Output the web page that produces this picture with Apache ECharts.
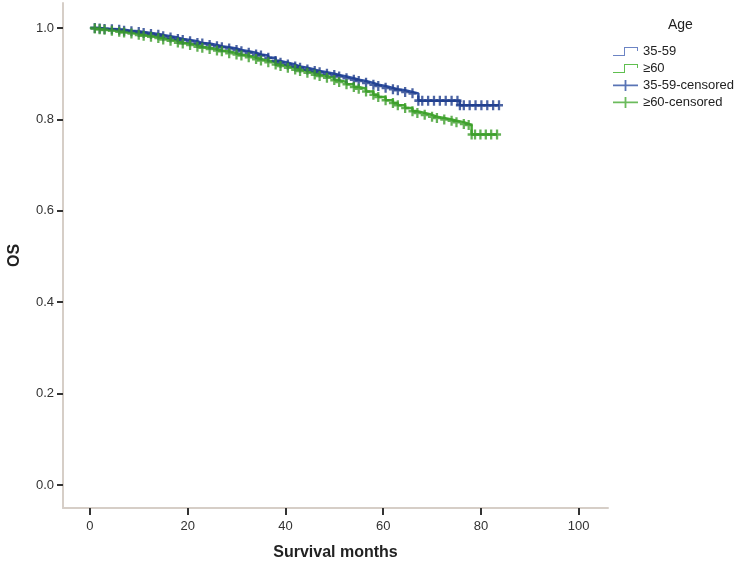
<!DOCTYPE html>
<html><head><meta charset="utf-8">
<script src="https://cdn.jsdelivr.net/npm/echarts@6/dist/echarts.min.js"></script>
<style>html,body{margin:0;padding:0;background:#fff}#c{width:745px;height:570px}</style>
</head><body><div id="c"></div>
<script>
// Kaplan-Meier data
const youngTimes = [0,1,2,3,4.5,6,7,8.5,10,11,12.5,14,15,16.5,18,19,20.5,22,23,24.5,26,27,28.5,30,31,32.5,34,35,36.5,38,39,40.5,42,43,44.5,46,47,48.5,50,51,52.5,54,55,56.5,58,59,60.5,62,63,64.5,66,67.2,68,69.2,70.4,71.6,72.8,74,75.2,75.7,76.5,77.7,78.9,80.1,81.3,82.5,83.7];
const youngSurv  = [1.000,1.000,0.999,0.998,0.997,0.996,0.994,0.993,0.991,0.989,0.987,0.985,0.982,0.979,0.976,0.974,0.971,0.967,0.966,0.963,0.960,0.958,0.955,0.952,0.949,0.946,0.942,0.940,0.935,0.928,0.924,0.920,0.916,0.913,0.909,0.906,0.903,0.900,0.897,0.894,0.890,0.887,0.884,0.880,0.876,0.873,0.869,0.866,0.864,0.860,0.857,0.841,0.841,0.841,0.841,0.841,0.841,0.841,0.841,0.831,0.831,0.831,0.831,0.831,0.831,0.831,0.831];
const oldTimes = [0,1,2,3,4.5,6,7,8.5,10,11,12.5,14,15,16.5,18,19,20.5,22,23,24.5,26,27,28.5,30,31,32.5,34,35,36.5,38,39,40.5,42,43,44.5,46,47,48.5,50,51,52.5,54,55,56.5,58,59,60.5,62,63,64.5,66,67,68.5,70,71,72.5,74,75,76.5,77.5,78.1,78.8,79.9,81,82.1,83.3];
const oldSurv  = [1.000,0.999,0.997,0.996,0.994,0.992,0.990,0.988,0.985,0.983,0.981,0.978,0.975,0.972,0.968,0.966,0.963,0.959,0.957,0.954,0.951,0.949,0.945,0.942,0.940,0.936,0.932,0.929,0.925,0.920,0.917,0.913,0.909,0.906,0.902,0.898,0.895,0.891,0.886,0.882,0.877,0.871,0.867,0.861,0.854,0.849,0.842,0.836,0.831,0.825,0.818,0.814,0.810,0.806,0.803,0.800,0.797,0.794,0.790,0.788,0.767,0.767,0.767,0.767,0.767,0.767];
const xTicks = [0,20,40,60,80,100];
const yTicks = [0,0.2,0.4,0.6,0.8,1.0];
const groupNames = ['35-59','≥60'];

const pairs = (t,s) => t.map((v,i)=>[v,s[i]]);
const youngData = pairs(youngTimes, youngSurv);
const oldData = pairs(oldTimes, oldSurv);

const BLUE_LINE = '#2f51a3', BLUE_MARK = '#1f3d8c', BLUE_LEG = '#6c84c4';
const GREEN_LINE = '#46aa33', GREEN_MARK = '#3c9e2a', GREEN_LEG = '#5fbf4f';
const plusPath = 'path://M3,0h2.4v3.4h3v2.4h-3v3.4h-2.4v-3.4h-3v-2.4h3z';
const stepIcon = 'path://M0,8H11V0H25V4H24V1H12V9H0Z';
const censIcon = 'path://M0,4.6H11.6V0H13.4V4.6H25V6.2H13.4V11H11.6V6.2H0Z';
const FONT = '"Liberation Sans", Arial, sans-serif';

const chart = echarts.init(document.getElementById('c'), null, {renderer:'canvas'});
chart.setOption({
  backgroundColor:'#ffffff',
  animation:false,
  grid:{left:63, right:137, top:3, bottom:62, containLabel:false, outerBoundsMode:'none'},
  xAxis:{
    type:'value', min:-5.5, max:106,
    name:'Survival months', nameLocation:'middle', nameGap:37,
    nameTextStyle:{fontFamily:FONT, fontSize:16, fontWeight:'bold', color:'#222'},
    axisLine:{show:true, onZero:false, lineStyle:{color:'#d6cec7', width:2}},
    axisTick:{show:true, customValues:xTicks, length:7, lineStyle:{color:'#333', width:2}},
    axisLabel:{customValues:xTicks, fontFamily:FONT, fontSize:13, color:'#333', margin:12},
    splitLine:{show:false}
  },
  yAxis:{
    type:'value', min:-0.0503, max:1.0547,
    name:'OS', nameLocation:'middle', nameGap:40, nameRotate:90,
    nameTextStyle:{fontFamily:FONT, fontSize:16, fontWeight:'bold', color:'#222'},
    axisLine:{show:true, onZero:false, lineStyle:{color:'#d6cec7', width:2}},
    axisTick:{show:true, customValues:yTicks, length:6, lineStyle:{color:'#333', width:2}},
    axisLabel:{customValues:yTicks, fontFamily:FONT, fontSize:13, color:'#333', margin:9,
      formatter:v=>v.toFixed(1)},
    splitLine:{show:false}
  },
  legend:{
    orient:'vertical', left:608, top:40, itemWidth:25, itemHeight:11, itemGap:4,
    textStyle:{fontFamily:FONT, fontSize:13, color:'#222'},
    data:[
      {name:groupNames[0], icon:stepIcon, itemStyle:{color:BLUE_LEG}},
      {name:groupNames[1], icon:stepIcon, itemStyle:{color:GREEN_LEG}},
      {name:groupNames[0]+'-censored', icon:censIcon, itemStyle:{color:BLUE_LINE}},
      {name:groupNames[1]+'-censored', icon:censIcon, itemStyle:{color:GREEN_LINE}}
    ]
  },
  graphic:[{type:'text', left:668, top:18, style:{text:'Age', font:'14px '+FONT, fill:'#222'}}],
  series:[
    {name:groupNames[0], type:'line', step:'end', data:youngData, symbol:'none',
      lineStyle:{color:BLUE_LINE, width:2.5}, itemStyle:{color:BLUE_LINE}, z:2},
    {name:groupNames[1], type:'line', step:'end', data:oldData, symbol:'none',
      lineStyle:{color:GREEN_LINE, width:2.5}, itemStyle:{color:GREEN_LINE}, z:3},
    {name:groupNames[0]+'-censored', type:'scatter', data:youngData.slice(1),
      symbol:plusPath, symbolSize:[8,10], itemStyle:{color:BLUE_MARK}, z:4},
    {name:groupNames[1]+'-censored', type:'scatter', data:oldData.slice(1),
      symbol:plusPath, symbolSize:[8,10], itemStyle:{color:GREEN_MARK}, z:5}
  ]
});
</script></body></html>
